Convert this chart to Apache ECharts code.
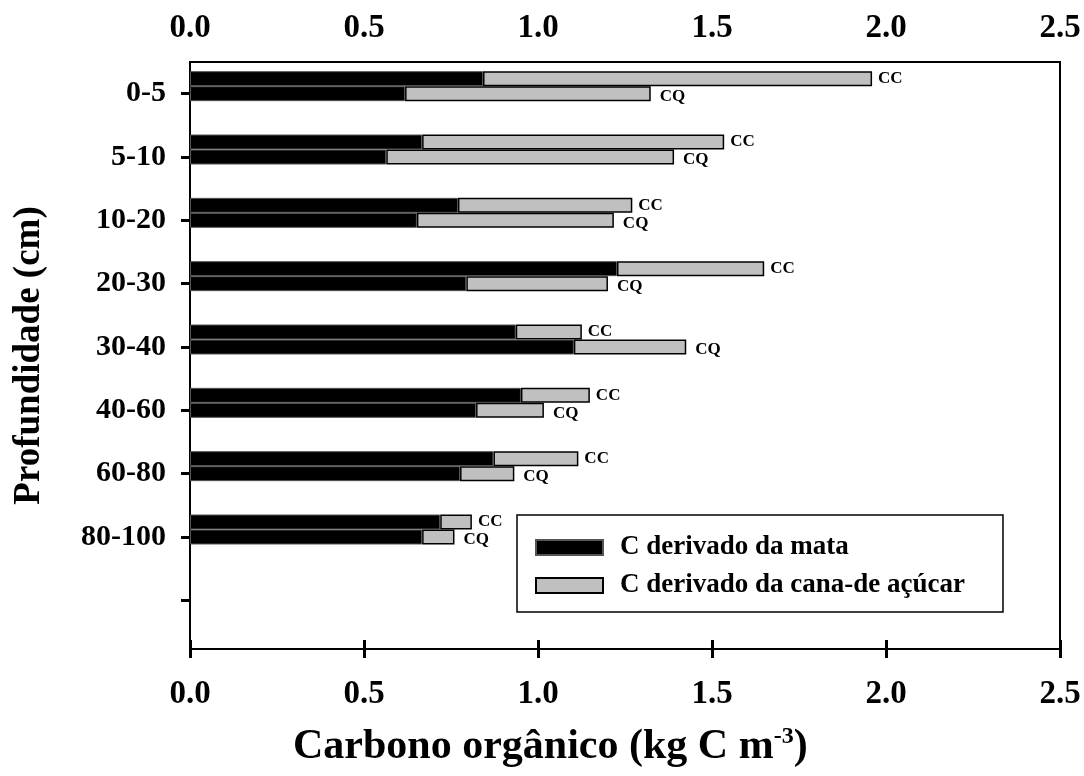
<!DOCTYPE html>
<html>
<head>
<meta charset="utf-8">
<script src="https://cdn.jsdelivr.net/npm/echarts@6/dist/echarts.min.js"></script>
<style>html,body{margin:0;padding:0;background:#fff}#c{width:1084px;height:776px}</style>
</head>
<body>
<div id="c"></div>
<script>
// ---- data ----
const depths = ['0-5', '5-10', '10-20', '20-30', '30-40', '40-60', '60-80', '80-100', ''];
const xTicks = ['0.0', '0.5', '1.0', '1.5', '2.0', '2.5'];
// CC: black (mata) segment end and total (mata + cana) end
const mataCC  = [0.842, 0.667, 0.770, 1.227, 0.936, 0.951, 0.872, 0.719];
const totalCC = [1.960, 1.535, 1.271, 1.650, 1.126, 1.149, 1.116, 0.810];
// CQ
const mataCQ  = [0.618, 0.564, 0.652, 0.794, 1.103, 0.822, 0.776, 0.667];
const totalCQ = [1.324, 1.391, 1.218, 1.201, 1.426, 1.017, 0.932, 0.760];
const seriesNames = ['C derivado da mata', 'C derivado da cana-de açúcar'];

const FONT = "'Liberation Serif', 'Times New Roman', serif";
const caneCC = totalCC.map((t, i) => +(t - mataCC[i]).toFixed(3));
const caneCQ = totalCQ.map((t, i) => +(t - mataCQ[i]).toFixed(3));

const chart = echarts.init(document.getElementById('c'), null, {renderer: 'canvas'});
const xAxisCommon = {
  type: 'value', min: 0, max: 2.5, interval: 0.5, gridIndex: 0,
  splitLine: {show: false},
  axisLine: {show: true, lineStyle: {color: '#000', width: 2}},
  axisTick: {show: true, inside: false, length: 9, lineStyle: {color: '#000', width: 3}},
  axisLabel: {color: '#000', fontFamily: FONT, fontWeight: 'bold', fontSize: 33,
    formatter: v => xTicks[Math.round(v / 0.5)]}
};
const blackStyle = {color: '#000', borderColor: '#555', borderWidth: 1};
const greyStyle = {color: '#c0c0c0', borderColor: '#000', borderWidth: 1.5};
const labelCommon = {show: true, position: 'right', color: '#000', fontFamily: FONT, fontWeight: 'bold', fontSize: 17};

chart.setOption({
  animation: false,
  backgroundColor: '#fff',
  grid: [
    {left: 190, top: 62, width: 870, height: 587, show: true, borderColor: '#000', borderWidth: 2, backgroundColor: 'transparent'},
    {left: 190, top: 62, width: 870, height: 570}
  ],
  title: {
    text: '{a|Carbono orgânico (kg C m}{b|-3}{a|)}',
    left: 288, top: 720,
    textStyle: {rich: {
      a: {fontFamily: FONT, fontWeight: 'bold', fontSize: 42, color: '#000'},
      b: {fontFamily: FONT, fontWeight: 'bold', fontSize: 24, color: '#000', verticalAlign: 'top', padding: [0, 0, 20, 0]}
    }}
  },
  legend: {
    data: seriesNames, orient: 'vertical', left: 517, top: 515,
    itemWidth: 67, itemHeight: 15, itemGap: 11, icon: 'rect',
    padding: [19, 38, 13, 18], borderColor: '#000', borderWidth: 1.5,
    textStyle: {color: '#000', fontFamily: FONT, fontWeight: 'bold', fontSize: 27, padding: [0, 0, 0, 12]},
    selectedMode: false
  },
  xAxis: [
    Object.assign({}, xAxisCommon, {position: 'top', axisLabel: Object.assign({}, xAxisCommon.axisLabel, {margin: 17})}),
    Object.assign({}, xAxisCommon, {position: 'bottom', axisLabel: Object.assign({}, xAxisCommon.axisLabel, {margin: 29})}),
    {type: 'value', min: 0, max: 2.5, gridIndex: 1, show: false}
  ],
  yAxis: [
    {type: 'value', gridIndex: 0, min: 0, max: 1,
      axisLine: {show: true, lineStyle: {color: '#000', width: 2}},
      axisTick: {show: false}, axisLabel: {show: false}, splitLine: {show: false},
      name: 'Profundidade (cm)', nameLocation: 'middle', nameGap: 142, nameRotate: 90,
      nameTextStyle: {color: '#000', fontFamily: FONT, fontWeight: 'bold', fontSize: 37}},
    {type: 'category', gridIndex: 1, inverse: true, data: depths,
      axisLine: {show: false},
      axisTick: {show: true, alignWithLabel: true, inside: false, length: 9, lineStyle: {color: '#000', width: 3}},
      axisLabel: {color: '#000', fontFamily: FONT, fontWeight: 'bold', fontSize: 30, margin: 24},
      splitLine: {show: false}}
  ],
  series: [
    {name: seriesNames[0], type: 'bar', xAxisIndex: 2, yAxisIndex: 1, stack: 'cc', barWidth: 15, barGap: '0%',
      data: mataCC, itemStyle: blackStyle},
    {name: seriesNames[1], type: 'bar', xAxisIndex: 2, yAxisIndex: 1, stack: 'cc', barWidth: 15, barGap: '0%',
      data: caneCC, itemStyle: greyStyle,
      label: Object.assign({}, labelCommon, {formatter: 'CC', distance: 6, offset: [0, 0]})},
    {name: seriesNames[0], type: 'bar', xAxisIndex: 2, yAxisIndex: 1, stack: 'cq', barWidth: 15, barGap: '0%',
      data: mataCQ, itemStyle: blackStyle},
    {name: seriesNames[1], type: 'bar', xAxisIndex: 2, yAxisIndex: 1, stack: 'cq', barWidth: 15, barGap: '0%',
      data: caneCQ, itemStyle: greyStyle,
      label: Object.assign({}, labelCommon, {formatter: 'CQ', distance: 9, offset: [0, 3]})},
    {name: 'spacer', type: 'bar', xAxisIndex: 2, yAxisIndex: 1, stack: 'sp', barWidth: 15, barGap: '0%',
      data: depths.map(() => null), itemStyle: {color: 'transparent'}}
  ]
});
</script>
</body>
</html>
